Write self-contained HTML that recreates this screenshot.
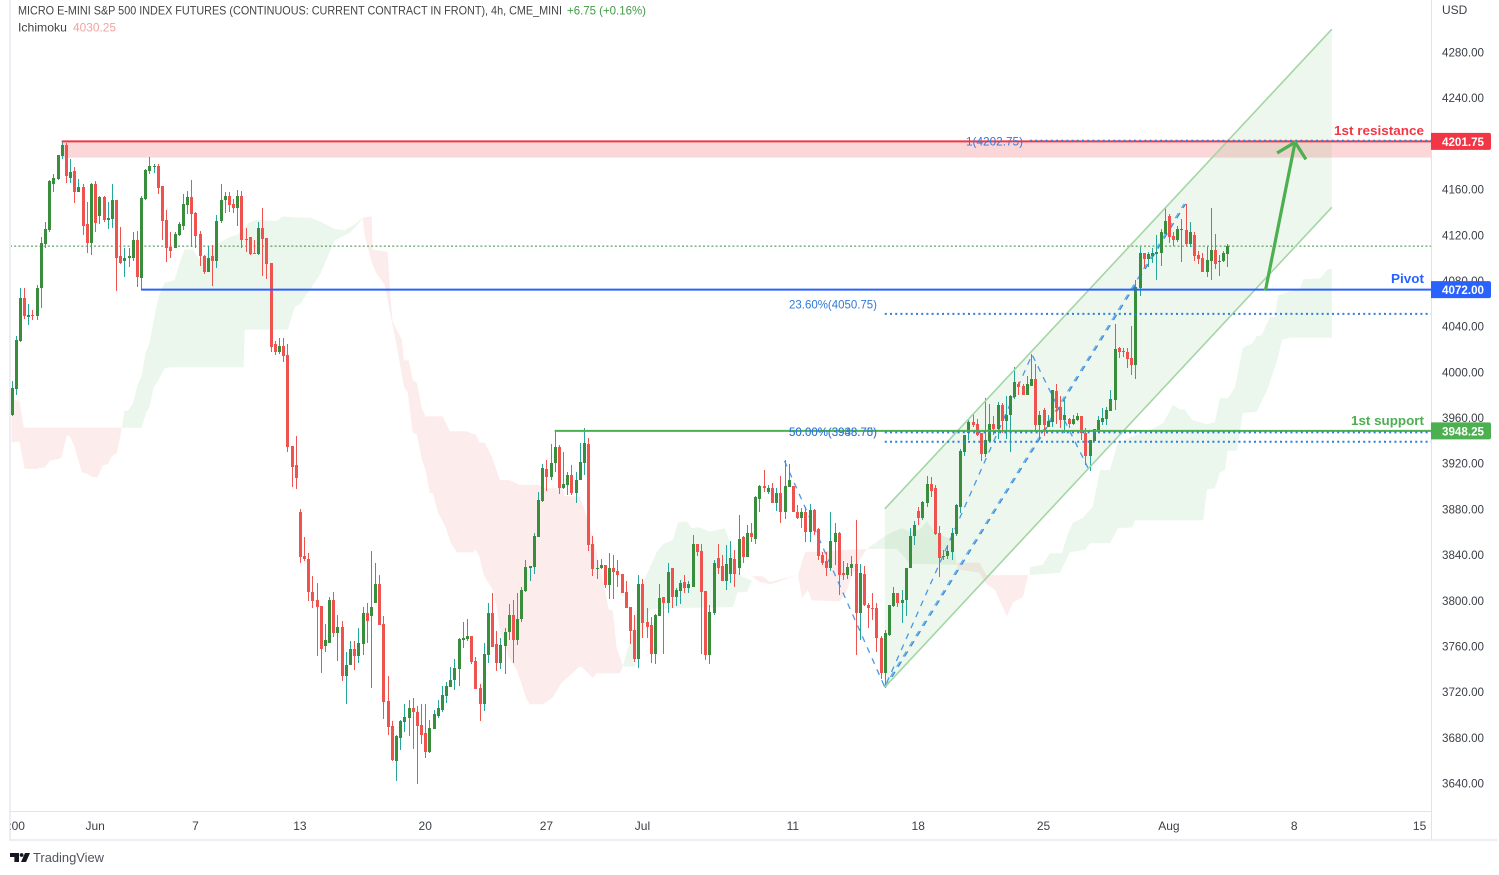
<!DOCTYPE html>
<html lang="en">
<head>
<meta charset="utf-8">
<title>Micro E-mini S&amp;P 500 Futures, 4h chart</title>
<style>
html,body{margin:0;padding:0;background:#fff;width:1499px;height:875px;overflow:hidden}
svg{display:block;font-family:"Liberation Sans",sans-serif}
</style>
</head>
<body>
<svg id="chart" xmlns="http://www.w3.org/2000/svg" width="1499" height="875" viewBox="0 0 1499 875">
  <defs><clipPath id="plotClip"><rect x="10" y="0" width="1421" height="811"/></clipPath>
  <clipPath id="axisClip"><rect x="10" y="812" width="1421" height="27"/></clipPath></defs>
  <rect x="0" y="0" width="1499" height="875" fill="#ffffff"/>
  <g id="plot" clip-path="url(#plotClip)"></g>
  <rect x="9" y="0" width="2" height="840" fill="#eceef3"/>
  <rect x="1431" y="0" width="1" height="840" fill="#e0e3eb"/>
  <rect x="10" y="811" width="1422" height="1" fill="#e0e3eb"/>
  <rect x="9" y="839" width="1488" height="2" fill="#eceef3"/>
  <g id="priceAxis"></g>
  <g id="timeAxis" clip-path="url(#axisClip)"></g>
  <text x="1442" y="14" font-size="12" fill="#3c4049">USD</text>

  <text x="18" y="14.5" font-size="12" fill="#444" textLength="544" lengthAdjust="spacingAndGlyphs">MICRO E-MINI S&amp;P 500 INDEX FUTURES (CONTINUOUS: CURRENT CONTRACT IN FRONT), 4h, CME_MINI</text>
  <text x="567" y="14.5" font-size="12" fill="#3f9a45" textLength="79" lengthAdjust="spacingAndGlyphs">+6.75 (+0.16%)</text>
  <text x="18" y="31.5" font-size="12" fill="#444" textLength="49" lengthAdjust="spacingAndGlyphs">Ichimoku</text>
  <text x="73" y="31.5" font-size="12" fill="#f3a3a0" textLength="43" lengthAdjust="spacingAndGlyphs">4030.25</text>

  <text x="1334" y="135" font-size="13" font-weight="bold" fill="#f23645" textLength="90" lengthAdjust="spacingAndGlyphs">1st resistance</text>
  <text x="1391" y="283" font-size="13" font-weight="bold" fill="#2962ff" textLength="33" lengthAdjust="spacingAndGlyphs">Pivot</text>
  <text x="1351" y="425" font-size="13" font-weight="bold" fill="#4caf50" textLength="73" lengthAdjust="spacingAndGlyphs">1st support</text>

  <g>
    <path d="M10 853h9v9h-4.6v-5H10z" fill="#131722"/>
    <circle cx="21.6" cy="855" r="1.9" fill="#131722"/>
    <path d="M25 853h5l-4 9h-5z" fill="#131722"/>
    <text x="33" y="862" font-size="13" fill="#50535e" textLength="71" lengthAdjust="spacingAndGlyphs">TradingView</text>
  </g>
</svg>
<script>
const opens=[3962,3985,4027,4065,4048,4050,4049,4073,4112,4124,4164,4169,4189,4199,4170,4176,4157,4162,4129,4113,
4164,4136,4153,4133,4134,4150,4101,4097,4100,4100,4115,4082,4151,4176,4179,4180,4163,4133,4109,4108,
4120,4128,4146,4153,4139,4121,4101,4087,4101,4097,4132,4150,4154,4147,4143,4154,4116,4118,4104,4103,
4126,4117,4095,4024,4017,4023,4015,3935,3918,3877,3839,3836,3807,3800,3795,3760,3763,3800,3771,3777,
3734,3743,3757,3751,3762,3789,3786,3798,3814,3779,3712,3690,3659,3679,3693,3697,3706,3702,3691,3684,
3667,3687,3699,3704,3716,3724,3730,3740,3765,3766,3769,3747,3723,3709,3752,3789,3762,3745,3760,3772,
3787,3765,3784,3808,3828,3829,3855,3887,3915,3908,3920,3934,3898,3901,3910,3894,3905,3920,3937,3849,
3827,3828,3831,3813,3828,3826,3823,3807,3794,3774,3749,3814,3781,3778,3753,3786,3803,3798,3828,3803,
3808,3816,3811,3812,3849,3843,3808,3752,3789,3837,3830,3817,3823,3836,3828,3855,3838,3859,3854,3889,
3900,3895,3898,3885,3894,3877,3899,3900,3877,3872,3877,3860,3879,3862,3840,3834,3828,3851,3859,3824,
3822,3828,3832,3789,3823,3796,3793,3793,3767,3736,3770,3795,3806,3798,3800,3828,3856,3878,3872,3885,
3902,3898,3859,3838,3839,3842,3858,3882,3930,3946,3956,3954,3946,3928,3939,3954,3950,3971,3957,3962,
3978,3989,3988,3980,3988,3994,3953,3967,3952,3956,3983,3969,3958,3959,3954,3958,3961,3946,3926,3939,
3949,3956,3959,3966,3975,4021,4018,4017,4012,4006,4073,4104,4099,4101,4103,4104,4121,4136,4119,4115,
4124,4124,4112,4120,4102,4100,4087,4097,4107,4096,4097,4103];
const highs=[3992,4031,4073,4073,4059,4054,4076,4118,4131,4168,4173,4190,4201,4200,4186,4179,4169,4164,4149,4165,
4167,4154,4154,4149,4164,4150,4127,4108,4108,4122,4123,4154,4178,4188,4182,4182,4163,4142,4122,4122,
4131,4156,4158,4168,4140,4123,4102,4110,4111,4137,4164,4157,4157,4151,4159,4158,4126,4118,4115,4131,
4143,4117,4095,4027,4030,4030,4024,3935,3944,3880,3855,3841,3821,3815,3795,3779,3803,3807,3787,3782,
3755,3764,3764,3776,3794,3798,3843,3833,3822,3786,3734,3694,3682,3695,3709,3713,3714,3707,3709,3709,
3695,3704,3713,3725,3728,3742,3749,3767,3781,3784,3769,3750,3727,3763,3798,3806,3773,3767,3776,3797,
3800,3806,3812,3835,3830,3859,3895,3919,3923,3937,3948,3936,3930,3912,3918,3912,3938,3951,3942,3856,
3835,3836,3831,3841,3840,3835,3823,3817,3794,3787,3822,3819,3793,3785,3788,3814,3803,3833,3828,3811,
3818,3822,3817,3857,3849,3849,3808,3796,3835,3849,3840,3848,3852,3844,3875,3856,3866,3868,3891,3901,
3914,3901,3903,3898,3909,3923,3919,3900,3883,3881,3882,3884,3880,3863,3842,3842,3877,3868,3860,3834,
3833,3839,3870,3832,3830,3798,3806,3798,3769,3774,3796,3812,3806,3809,3828,3863,3869,3882,3887,3909,
3908,3901,3865,3844,3848,3863,3884,3932,3945,3959,3964,3959,3946,3977,3972,3961,3974,3973,3979,3980,
4004,3991,3989,3996,4016,4007,3966,3968,3962,3984,3989,3979,3975,3960,3962,3964,3961,3951,3940,3950,
3961,3968,3969,3984,4042,4022,4021,4021,4040,4080,4109,4104,4105,4108,4120,4125,4143,4138,4122,4128,
4134,4147,4131,4122,4106,4104,4109,4143,4121,4102,4106,4112];
const lows=[3961,3980,4026,4046,4041,4045,4045,4056,4108,4122,4157,4168,4186,4165,4165,4148,4157,4120,4104,4102,
4122,4129,4131,4125,4126,4071,4094,4083,4092,4097,4074,4072,4150,4173,4174,4156,4115,4096,4100,4108,
4119,4124,4138,4109,4108,4093,4086,4087,4075,4091,4130,4139,4140,4139,4128,4108,4105,4102,4103,4102,
4084,4081,4017,4015,4016,4009,3930,3899,3897,3833,3834,3799,3793,3751,3736,3755,3763,3768,3747,3729,
3709,3743,3739,3745,3752,3763,3723,3798,3778,3696,3682,3659,3642,3669,3685,3681,3670,3639,3674,3662,
3666,3687,3697,3702,3710,3724,3721,3725,3758,3764,3744,3722,3694,3703,3745,3759,3738,3740,3735,3765,
3745,3761,3781,3807,3817,3823,3855,3886,3896,3905,3912,3893,3897,3892,3892,3885,3905,3910,3843,3821,
3819,3827,3811,3801,3801,3812,3806,3793,3762,3746,3741,3767,3767,3745,3744,3786,3753,3789,3793,3795,
3797,3806,3806,3812,3839,3753,3748,3744,3787,3823,3817,3809,3815,3812,3822,3833,3838,3851,3849,3877,
3895,3893,3885,3878,3868,3871,3899,3877,3871,3863,3851,3851,3857,3835,3831,3821,3826,3831,3805,3818,
3819,3821,3752,3765,3795,3776,3783,3755,3731,3723,3769,3794,3794,3780,3786,3828,3848,3866,3870,3882,
3890,3857,3820,3835,3836,3835,3856,3876,3926,3940,3952,3944,3922,3925,3939,3945,3941,3946,3941,3930,
3976,3980,3980,3980,3988,3947,3941,3944,3952,3952,3954,3951,3946,3951,3953,3957,3940,3918,3913,3939,
3949,3953,3953,3966,3967,4012,4013,4003,3997,3994,4066,4091,4092,4095,4080,4093,4121,4113,4110,4114,
4096,4110,4109,4097,4094,4087,4083,4080,4090,4084,4096,4092];
const closes=[3986,4028,4065,4049,4050,4049,4073,4113,4125,4167,4170,4190,4199,4171,4175,4157,4162,4128,4113,4164,
4130,4153,4133,4135,4150,4100,4095,4100,4101,4115,4083,4152,4177,4180,4180,4161,4132,4108,4106,4121,
4129,4147,4153,4138,4119,4101,4087,4100,4097,4132,4150,4154,4146,4143,4154,4115,4115,4103,4103,4126,
4116,4094,4022,4017,4023,4014,3934,3917,3907,3838,3836,3807,3799,3794,3757,3765,3800,3771,3777,3734,
3743,3757,3751,3763,3789,3782,3794,3814,3778,3711,3689,3660,3681,3694,3698,3706,3702,3690,3682,3667,
3688,3700,3706,3717,3725,3730,3741,3766,3767,3769,3746,3722,3709,3753,3789,3759,3745,3761,3772,3787,
3765,3784,3809,3829,3830,3856,3888,3916,3908,3920,3934,3898,3902,3910,3894,3905,3921,3938,3848,3827,
3828,3831,3813,3828,3825,3822,3806,3793,3773,3749,3814,3780,3777,3753,3787,3802,3798,3825,3803,3809,
3815,3811,3814,3849,3842,3807,3752,3790,3833,3828,3817,3832,3837,3823,3854,3838,3859,3855,3890,3900,
3898,3898,3885,3894,3877,3900,3905,3877,3872,3877,3860,3879,3861,3839,3833,3828,3852,3859,3822,3822,
3829,3832,3789,3824,3796,3793,3792,3767,3736,3771,3796,3806,3798,3800,3828,3856,3866,3872,3886,3902,
3896,3858,3837,3839,3843,3859,3883,3931,3945,3956,3953,3945,3928,3940,3954,3950,3971,3957,3962,3979,
3991,3987,3980,3989,3994,3953,3962,3953,3957,3984,3968,3958,3962,3954,3959,3961,3946,3926,3940,3950,
3958,3960,3967,3976,4020,4017,4017,4011,4006,4074,4104,4099,4103,4104,4105,4122,4132,4118,4115,4125,
4125,4112,4122,4101,4099,4087,4098,4107,4094,4097,4104,4110];

const priceTicks=[4280,4240,4200,4160,4120,4080,4040,4000,3960,3920,3880,3840,3800,3760,3720,3680,3640];
const timeTickLabels=["16:00","Jun","7","13","20","27","Jul","11","18","25","Aug","8","15"];
const timeTickBars=[-0.4,20,44,69,99,128,151,187,217,247,277,307,337];

const redCloud1Bars=[0,1.9,2.9,26.4,25.2,24,23,21.8,20.6,19.2,18,16.8,15.1,13.9,13.2,12,11.5,9.1,7.9,6.7,6.2,3.1,1.9,0];
const redCloud1Prices=[3975,3975,3951,3951,3929,3926,3919,3918,3908,3908,3911,3912,3934,3944,3944,3926,3924,3922,3916,3916,3915,3915,3939,3938];
const greenCloud1Bars=[26.4,27,27.8,29,30.2,31.1,32.1,33,34,35.2,36.6,39,40.2,41.4,43.4,45,48.6,52.2,54.1,57,58.7,63.5,64.9,68.3,71.4,74.2,77.3,79.7,82.1,84,83.3,81,77.3,73.8,71.4,69,67.8,66.1,55.8,55.5,37.8,36.6,34.9,34,33,32.3,31.1];
const greenCloud1Prices=[3951,3966,3966,3972,3989,3996,4017,4025,4045,4066,4078,4080,4095,4107,4107,4098,4111,4118,4120,4131,4133,4132,4136,4135,4135,4131,4125,4124,4129,4135,4131,4122,4115,4085,4072,4059,4057,4037,4037,4004,4004,4003,3991,3987,3969,3965,3951];
const redCloud2Bars=[84,86.2,86.4,90,90.5,91.2,93.4,93.9,95.1,96,97,98.2,99.1,103.2,104.9,108.9,110.1,111.1,112,113.2,114.9,116.9,119.2,121.6,125.9,128.1,131.9,132.4,136,137.7,139.1,142,142.9,143.9,144.8,146.3,145.6,140.1,139.1,136.7,136,131.7,129.5,128.1,127.1,124,123.3,120.9,119,116.9,116.1,115.2,113,112,111.1,110.4,106.6,105.1,103.9,102,100.8,100.1,99.1,98.2,97,96,94.8,93.9,91.9,91,89.3,87.2,86.2,84.5];
const redCloud2Prices=[4135,4136,4107,4105,4076,4044,4028,4010,4010,3993,3990,3968,3961,3961,3948,3948,3946,3945,3938,3938,3926,3905,3905,3901,3901,3898,3898,3891,3891,3873,3856,3809,3792,3791,3759,3742,3736,3736,3732,3741,3742,3728,3715,3711,3709,3709,3713,3739,3750,3772,3794,3809,3822,3838,3844,3842,3842,3850,3864,3877,3894,3894,3914,3923,3945,3947,3982,3987,4028,4044,4076,4087,4096,4120];
const greenCloud2Bars=[146.3,147.9,151.1,154.4,155.9,158.3,159.5,161.6,162.8,164.7,167.1,170.7,171.9,173.8,174.8,177.2,176,173.8,172.6,155.2,152.8,150.4,149.2];
const greenCloud2Prices=[3742,3763,3815,3842,3849,3853,3868,3869,3863,3864,3860,3863,3851,3825,3821,3817,3807,3807,3794,3793,3792,3765,3742];
const redCloud3Bars=[177.2,179.8,181.5,188,183.4,181.5,179.1];
const redCloud3Prices=[3821,3821,3816,3822,3816,3814,3816];
const redCloud4Bars=[188.2,189.9,204.7,203,200.7,200,198.3,191.5,190.6,189.2];
const redCloud4Prices=[3822,3842,3845,3835,3818,3809,3799,3800,3809,3802];
const greenCloud3Bars=[204.7,208.6,211,213.1,215,217.4,219.1,221,225.3,226.2,215,211.9];
const greenCloud3Prices=[3845,3855,3860,3863,3860,3862,3869,3859,3853,3831,3832,3845];
const redCloud5Bars=[226.4,231.7,233.3,243.3,242.1,239.7,238.2,235.4,233,231.7,226.4];
const redCloud5Prices=[3833,3833,3822,3822,3803,3798,3786,3809,3815,3824,3827];
const greenCloud4Bars=[243.7,246.8,248.5,251.4,252.6,254,256.4,258.8,260.5,262.9,264.8,269.4,272.5,275.6,278,279.6,280.8,282.5,286.1,288,289.2,291.1,292.8,294.7,297,298,299.2,301.2,302.4,303.1,308.4,309.1,313.2,315.1,316,316,306,304.1,302.9,300.5,298,294.7,293.3,291.1,290.4,289.2,288,286.1,285.2,268.9,268.2,264.8,262.9,258.1,256.9,253.3,250.9,243.7];
const greenCloud4Prices=[3829,3831,3841,3841,3856,3868,3872,3882,3914,3914,3938,3945,3949,3955,3971,3967,3967,3958,3954,3956,3977,3977,3986,4021,4025,4031,4032,4048,4048,4067,4073,4081,4082,4090,4090,4030,4030,4028,4010,3984,3965,3964,3931,3931,3914,3912,3898,3897,3870,3870,3864,3863,3850,3850,3844,3842,3824,3822];

const channelBars=[209,316];
const channelUpper=[3880,4300];
const channelLower=[3724,4144];
const zigzagBars=[185,209,244.25,257.6];
const zigzagPrices=[3922,3724,4015,3916];
const trendBars=[209,280.8];
const trendPrices=[3724,4147];
const arrowBars=[300.1,307.2];
const arrowPrices=[4071,4201];
const arrowHeadBars=[302.9,307.2,309.8];
const arrowHeadPrices=[4191.6,4201,4186];
const resistanceLevel=4201.75;
const resistanceZoneLow=4187.5;
const pivotLevel=4072;
const supportLevel=3948.25;
const lastPrice=4110;
const fibLevels=[4202.25,4050.75,3947,3938.75];

const NS='http://www.w3.org/2000/svg';
function xScale(b){return 11.6+4.178*b;}
function yScale(p){return 52+(4280-p)*1.1422;}
const plot=document.getElementById('plot');
const priceAxis=document.getElementById('priceAxis');
const timeAxis=document.getElementById('timeAxis');
const GREEN_BODY='#388e3c',GREEN_WICK='#26a69a',RED='#ef5350';

function mk(tag,attrs,parent){
  const el=document.createElementNS(NS,tag);
  for(const k in attrs){el.setAttribute(k,attrs[k]);}
  (parent||plot).appendChild(el);
  return el;
}
function pointsOf(bars,prices){
  return bars.map((b,i)=>xScale(b).toFixed(1)+','+yScale(prices[i]).toFixed(1)).join(' ');
}
function cloud(bars,prices,color,name){
  const el=mk('polygon',{points:pointsOf(bars,prices),fill:color,'fill-opacity':'0.11'});
  
  
}
cloud(redCloud1Bars,redCloud1Prices,'#ef5350','ichimoku-cloud-bearish-1');
cloud(greenCloud1Bars,greenCloud1Prices,'#4caf50','ichimoku-cloud-bullish-1');
cloud(redCloud2Bars,redCloud2Prices,'#ef5350','ichimoku-cloud-bearish-2');
cloud(greenCloud2Bars,greenCloud2Prices,'#4caf50','ichimoku-cloud-bullish-2');
cloud(redCloud3Bars,redCloud3Prices,'#ef5350','ichimoku-cloud-bearish-3');
cloud(redCloud4Bars,redCloud4Prices,'#ef5350','ichimoku-cloud-bearish-4');
cloud(greenCloud3Bars,greenCloud3Prices,'#4caf50','ichimoku-cloud-bullish-3');
cloud(redCloud5Bars,redCloud5Prices,'#ef5350','ichimoku-cloud-bearish-5');
cloud(greenCloud4Bars,greenCloud4Prices,'#4caf50','ichimoku-cloud-bullish-4');

/* resistance zone */
const zone=mk('rect',{x:xScale(12),y:yScale(resistanceLevel),width:1431-xScale(12),height:yScale(resistanceZoneLow)-yScale(resistanceLevel),fill:'#f23645','fill-opacity':'0.2'});



/* parallel channel */
const chFill=mk('polygon',{points:pointsOf([channelBars[0],channelBars[1],channelBars[1],channelBars[0]],[channelUpper[0],channelUpper[1],channelLower[1],channelLower[0]]),fill:'#4caf50','fill-opacity':'0.1'});



/* last price line */
const lp=mk('line',{x1:10,x2:1431,y1:yScale(lastPrice),y2:yScale(lastPrice),stroke:'#388e3c','stroke-width':1,'stroke-dasharray':'2 2.2'});



/* zigzag + trend dashed */
const zz=mk('polyline',{points:pointsOf(zigzagBars,zigzagPrices),fill:'none',stroke:'#4a98e6','stroke-width':1.3,'stroke-dasharray':'6 6'});


const tr1=mk('polyline',{points:pointsOf(trendBars,trendPrices),fill:'none',stroke:'#64aeea','stroke-width':1.2,'stroke-dasharray':'6 6',transform:'translate(-0.8,0)'});


const tr2=mk('polyline',{points:pointsOf(trendBars,trendPrices),fill:'none',stroke:'#2f86de','stroke-width':1.2,'stroke-dasharray':'6 6',transform:'translate(0.8,0)'});



/* candles */
opens.forEach(function(o,i){
  const c=closes[i],up=c>=o;
  const cx=Math.round(xScale(i));
  const top=Math.round(yScale(Math.max(o,c)));
  const bot=Math.round(yScale(Math.min(o,c)));
  const hi=Math.round(yScale(highs[i]));
  const lo=Math.round(yScale(lows[i]));
  const wick=mk('rect',{x:cx,y:hi,width:1,height:Math.max(1,lo-hi),fill:up?GREEN_WICK:RED});
  
  
  const body=mk('rect',{x:cx-1,y:top,width:3,height:Math.max(1,bot-top),fill:up?GREEN_BODY:RED});
  
  
});

/* channel borders */
const chU=mk('polyline',{points:pointsOf(channelBars,channelUpper),fill:'none',stroke:'#a3d6a5','stroke-width':1.6});


const chL=mk('polyline',{points:pointsOf(channelBars,channelLower),fill:'none',stroke:'#a3d6a5','stroke-width':1.6});



/* horizontal levels */
const rl=mk('line',{x1:xScale(12),x2:1431,y1:yScale(resistanceLevel),y2:yScale(resistanceLevel),stroke:'#f23645','stroke-width':2});


const pl=mk('line',{x1:xScale(31),x2:1431,y1:yScale(pivotLevel),y2:yScale(pivotLevel),stroke:'#2962ff','stroke-width':2});


const sl=mk('line',{x1:xScale(130),x2:1431,y1:yScale(supportLevel),y2:yScale(supportLevel),stroke:'#4caf50','stroke-width':2});



/* fibonacci dotted lines */
fibLevels.forEach(function(lv,i){
  const start=i===0?1030:xScale(209);
  const f=mk('line',{x1:start,x2:1431,y1:yScale(lv),y2:yScale(lv),stroke:'#2e7fd6','stroke-width':2,'stroke-dasharray':'2 3.2'});
  
  
});
function fibText(x,y,len,str){
  const t=mk('text',{x:x,y:y,'font-size':12,fill:'#3179d8',textLength:len,lengthAdjust:'spacingAndGlyphs'});
  t.textContent=str;
  
  
}
fibText(966,145.5,57,'1(4202.75)');
fibText(789,308.5,88,'23.60%(4050.75)');
fibText(789,436,88,'50.00%(3948.70)');
fibText(789,436,88,'50.00%(3938.75)');

/* arrow */
const ar=mk('polyline',{points:pointsOf(arrowBars,arrowPrices),fill:'none',stroke:'#4caf50','stroke-width':3.2});


const ah=mk('polyline',{points:pointsOf(arrowHeadBars,arrowHeadPrices),fill:'none',stroke:'#4caf50','stroke-width':3.2});



/* price axis */
priceTicks.forEach(function(p){
  const t=mk('text',{x:1442,y:yScale(p)+4.5,'font-size':12,fill:'#3c4049',textLength:42,lengthAdjust:'spacingAndGlyphs'},priceAxis);
  t.textContent=p.toFixed(2);
  
  
});
function priceTag(level,color){
  const yc=yScale(level);
  const r=mk('path',{d:'M1431 '+(yc-8.5)+'h58a2 2 0 0 1 2 2v13a2 2 0 0 1 -2 2h-58z',fill:color},priceAxis);
  
  
  const t=mk('text',{x:1442,y:yc+4.5,'font-size':12,'font-weight':'bold',fill:'#ffffff',textLength:42,lengthAdjust:'spacingAndGlyphs'},priceAxis);
  t.textContent=level.toFixed(2);
  
  
}
priceTag(resistanceLevel,'#f23645');
priceTag(pivotLevel,'#2962ff');
priceTag(supportLevel,'#4caf50');

/* time axis */
timeTickLabels.forEach(function(lbl,i){
  const t=mk('text',{x:xScale(timeTickBars[i]),y:830,'font-size':12,fill:'#3c4049','text-anchor':'middle'},timeAxis);
  t.textContent=lbl;
  
  
});
</script>
</body>
</html>
